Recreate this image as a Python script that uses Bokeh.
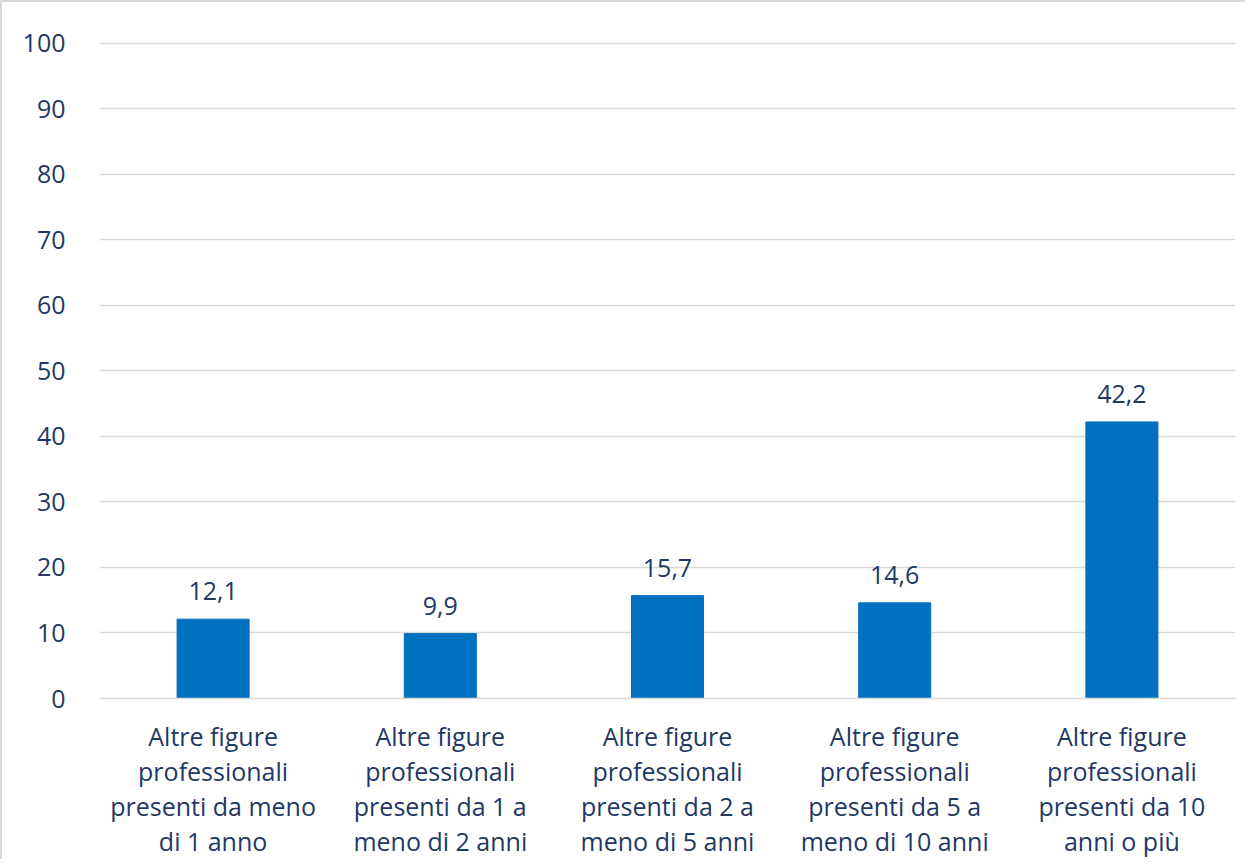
from bokeh.plotting import figure
from bokeh.models import ColumnDataSource, SingleIntervalTicker, LabelSet
from bokeh.core.properties import value
from bokeh.embed import file_html
from bokeh.resources import INLINE

categories = [
    "Altre figure\nprofessionali\npresenti da meno\ndi 1 anno",
    "Altre figure\nprofessionali\npresenti da 1 a\nmeno di 2 anni",
    "Altre figure\nprofessionali\npresenti da 2 a\nmeno di 5 anni",
    "Altre figure\nprofessionali\npresenti da 5 a\nmeno di 10 anni",
    "Altre figure\nprofessionali\npresenti da 10\nanni o più",
]
values = [12.1, 9.9, 15.7, 14.6, 42.2]
value_labels = [f"{v:.1f}".replace(".", ",") for v in values]

FONT = "Open Sans"
FS = "25px"
TXT = "#1F3864"
BLUE = "#0070C0"
GRID = "#D9D9D9"

src = ColumnDataSource(dict(cat=categories, val=values, lab=value_labels))

p = figure(x_range=categories, y_range=(0, 100.25), width=1245, height=859,
           output_backend="svg", toolbar_location=None,
           min_border_left=97, min_border_top=39, min_border_right=12, min_border_bottom=163)
p.styles = {"border-left": "2px solid #D9D9D9", "border-top": "2px solid #D9D9D9"}

p.vbar(x="cat", top="val", width=0.317, source=src, color=BLUE)

labels = LabelSet(x="cat", y="val", text="lab", source=src, y_offset=19,
                  text_align="center", text_baseline="bottom",
                  text_font=value(FONT), text_font_size=FS, text_color=TXT)
p.add_layout(labels)

p.outline_line_color = None
p.xgrid.grid_line_color = None
p.ygrid.grid_line_color = GRID
p.ygrid.grid_line_width = 1.5
p.yaxis.ticker = SingleIntervalTicker(interval=10)
p.yaxis.axis_line_color = None
p.yaxis.major_tick_line_color = None
p.yaxis.minor_tick_line_color = None
p.yaxis.major_label_standoff = 28
p.yaxis.major_label_text_font = FONT
p.yaxis.major_label_text_font_size = FS
p.yaxis.major_label_text_color = TXT

p.xaxis.axis_line_color = GRID
p.xaxis.axis_line_width = 1.5
p.xaxis.major_tick_line_color = None
p.xaxis.minor_tick_line_color = None
p.xaxis.major_label_standoff = 14
p.xaxis.major_label_text_font = FONT
p.xaxis.major_label_text_font_size = FS
p.xaxis.major_label_text_color = TXT
p.xaxis.major_label_text_line_height = 1.03

open("out.html", "w").write(file_html(p, INLINE))
